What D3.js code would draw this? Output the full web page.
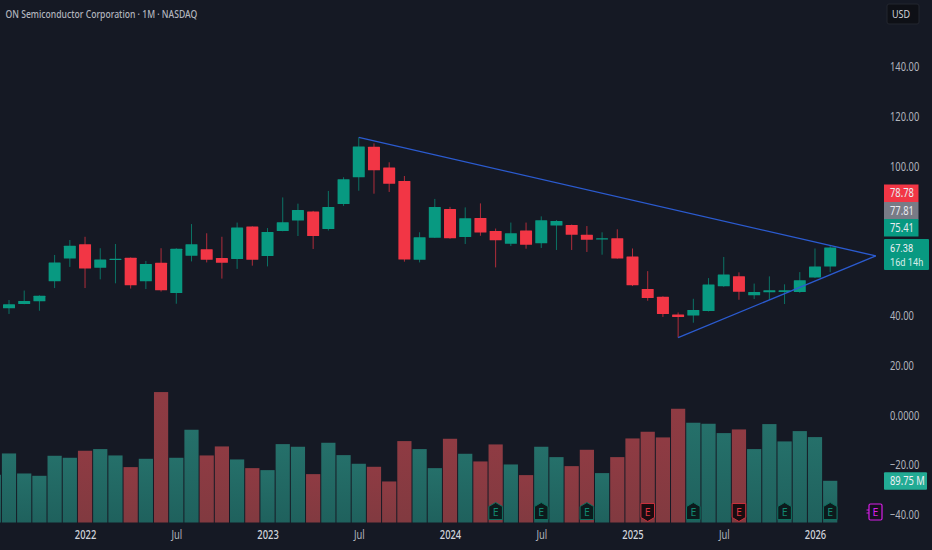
<!DOCTYPE html>
<html><head><meta charset="utf-8">
<script src="https://cdn.jsdelivr.net/npm/d3@7"></script>
<style>
html,body{margin:0;padding:0;background:#151924;overflow:hidden}
svg{display:block}
text{font-family:"Noto Sans",sans-serif}
</style></head><body>
<svg id="chart" width="932" height="550"></svg>
<script>
// Monthly candles, Aug 2021 - Feb 2026
const opens  = [43.0,44.7,45.8,53.8,63.0,68.7,59.3,62.5,63.3,53.8,61.3,49.1,64.1,66.7,63.2,62.8,75.8,64.0,74.0,78.2,81.8,74.8,84.9,95.6,107.9,99.5,94.1,62.5,71.3,82.9,71.6,79.2,74.0,68.9,74.2,69.1,76.2,76.4,72.5,70.7,71.1,63.8,50.7,47.6,40.5,40.1,41.9,51.8,55.8,48.2,49.4,49.5,49.5,55.3,59.8];
const highs  = [46.3,50.1,48.2,64.4,70.4,71.7,67.1,68.8,63.4,62.0,67.1,67.1,76.8,73.1,71.7,77.4,75.9,75.2,87.5,85.0,82.1,90.1,95.6,111.6,109.2,101.6,96.1,73.5,86.9,83.7,83.5,85.1,75.0,77.4,77.4,79.9,78.4,76.6,76.0,73.5,74.7,67.0,57.9,47.8,41.3,46.8,55.1,63.6,57.4,52.9,55.8,52.6,57.5,67.0,68.4];
const lows   = [40.7,44.6,42.0,51.1,59.6,51.1,54.6,53.0,50.9,50.7,49.7,44.8,61.8,61.4,54.9,58.8,60.1,59.8,73.9,72.0,66.8,74.2,84.1,90.2,89.0,89.7,61.7,61.4,71.2,70.9,68.8,72.1,59.4,68.0,66.9,67.2,66.4,66.4,65.6,64.5,62.9,51.9,46.0,39.5,31.2,37.2,41.7,51.6,46.4,46.7,46.3,44.7,49.2,55.1,57.5];
const closes = [44.6,45.9,48.05,61.4,68.1,59.0,62.6,62.9,52.2,60.8,50.2,66.9,68.7,62.5,61.3,75.4,62.5,73.6,77.5,82.5,72.0,83.7,94.8,108.0,98.4,93.0,62.6,71.5,83.7,71.1,79.1,73.4,70.3,73.1,68.5,78.3,78.0,72.5,70.5,71.1,63.0,52.2,47.1,40.7,39.5,42.3,52.5,56.5,49.6,49.5,50.2,50.2,54.2,59.8,67.38];
// Monthly volume in millions; the first value belongs to Jul 2021 (clipped at the left edge)
const volumes = [102.7,148.6,105.5,100.5,143.6,139.3,154.4,158.0,144.3,119.2,137.1,280.7,139.3,199.6,144.3,163.7,135.7,117.0,112.7,168.7,163.0,104.1,171.6,145.0,126.4,119.9,88.3,175.2,158.0,117.0,180.2,147.9,131.4,168.0,124.9,102.0,163.0,140.7,121.3,156.5,106.3,140.7,180.9,195.3,183.1,244.8,214.7,212.5,192.4,200.3,158.0,211.8,174.5,196.7,183.8,89.75];
const volumeUp = [1].concat(closes.map((c,i)=>c>=opens[i]?1:0));
const priceTicks = [140,120,100,40,20,0,-20,-40];
const timeTickIndex = [5,11,17,23,29,35,41,47,53];
const timeTickLabels = ["2022","Jul","2023","Jul","2024","Jul","2025","Jul","2026"];
const earningsIndex = [32,35,38,42,45,48,51,54];
const earningsUp = [1,1,1,0,1,0,1,1];
const trendUpper = [[23,111.6],[57,64.0]];
const trendLower = [[44,31.2],[57,64.0]];
const title = "ON Semiconductor Corporation · 1M · NASDAQ";
const stackedLabels = ["78.78","77.81","75.41"];
const lastPrice = "67.38", countdown = "16d 14h", lastVolume = "89.75 M", currency = "USD";

const UP="#089981", DOWN="#f23645", TICK="#b2b5be", SQUEEZE=.78;
const svg=d3.select("#chart");
const x=d3.scaleLinear().domain([0,54]).range([9,830.2]);
const y=d3.scaleLinear().domain([-40,140]).range([514.9,66.7]);
const v=d3.scaleLinear().domain([0,89.75]).range([522.5,480.8]);

svg.append("rect").attr("width",932).attr("height",550).attr("fill","#151924");

// Volume
const grad=svg.append("defs");
[["gu","#25706a","#1f615d"],["gd","#8f3b43","#813a40"]].forEach(([id,a,b])=>{
  const g=grad.append("linearGradient").attr("id",id).attr("x1",0).attr("x2",0).attr("y1",0).attr("y2",1);
  g.append("stop").attr("offset",0).attr("stop-color",a);
  g.append("stop").attr("offset",1).attr("stop-color",b);
});
svg.append("g").selectAll("rect").data(volumes).join("rect")
  .attr("x",(d,i)=>x(i-1)-7.1).attr("width",14.2)
  .attr("y",d=>v(d)).attr("height",d=>v(0)-v(d))
  .attr("fill",(d,i)=>volumeUp[i]?"url(#gu)":"url(#gd)");

// Candles
const idx=d3.range(closes.length);
const col=i=>closes[i]>=opens[i]?UP:DOWN;
const candles=svg.append("g");
candles.selectAll("line").data(idx).join("line")
  .attr("x1",i=>x(i)).attr("x2",i=>x(i))
  .attr("y1",i=>y(highs[i])).attr("y2",i=>y(lows[i]))
  .attr("stroke",i=>col(i)).attr("stroke-width",1).attr("opacity",.7);
candles.selectAll("rect").data(idx).join("rect")
  .attr("x",i=>x(i)-6).attr("width",12)
  .attr("y",i=>y(Math.max(opens[i],closes[i])))
  .attr("height",i=>Math.max(1.2,Math.abs(y(opens[i])-y(closes[i]))))
  .attr("rx",.5).attr("fill",i=>col(i));

// Trend lines
const line=d3.line().x(d=>x(d[0])).y(d=>y(d[1]));
[trendUpper,trendLower].forEach(t=>svg.append("path").attr("d",line(t)).attr("fill","none").attr("stroke","#2b5bd0").attr("stroke-width",1.3));

// Price axis
const fmt=d=>d===0?"0.0000":(d<0?"\u2212":"")+Math.abs(d).toFixed(2);
const ay=svg.append("g").attr("transform","translate(884,0)")
  .call(d3.axisRight(y).tickValues(priceTicks).tickFormat(fmt).tickSize(0).tickPadding(6));
ay.select(".domain").remove();
ay.selectAll("text").attr("fill",TICK).attr("font-size",12).style("font-family",'"Noto Sans",sans-serif');

// Time axis
const at=svg.append("g").attr("transform","translate(0,530)")
  .call(d3.axisBottom(x).tickValues(timeTickIndex).tickFormat((d,i)=>timeTickLabels[i]).tickSize(0).tickPadding(0));
at.select(".domain").remove();
at.selectAll("text").attr("fill",(d,i)=>i%2?TICK:"#d1d4dc").attr("font-size",12).attr("font-weight",(d,i)=>i%2?400:500)
  .style("font-family",'"Noto Sans",sans-serif');

// Title and currency
svg.append("text").attr("class","title").attr("x",5.5).attr("y",18).attr("fill","#b2b5be").attr("font-size",11.5).attr("font-weight",500).text(title);
svg.append("rect").attr("x",887).attr("y",4).attr("width",32).attr("height",20).attr("rx",2).attr("fill","#0e1016").attr("stroke","#23262f");
svg.append("text").attr("x",892).attr("y",18).attr("fill","#d1d4dc").attr("font-size",11.5).text(currency);

// Stacked price labels
const stackY=[184.5,202,219], stackCol=[DOWN,"#787b86",UP];
stackedLabels.forEach((t,i)=>{
  svg.append("rect").attr("x",884).attr("y",stackY[i]).attr("width",34.5).attr("height",17.5).attr("fill",stackCol[i]);
  svg.append("text").attr("x",890).attr("y",stackY[i]+13).attr("fill","#e8eaf0").attr("font-size",12).text(t);
});
svg.append("rect").attr("x",884).attr("y",y(67.38)-8.5).attr("width",45).attr("height",31).attr("rx",1).attr("fill",UP);
svg.append("text").attr("x",890).attr("y",y(67.38)+4.5).attr("fill","#eef0f4").attr("font-size",11.8).style("font-family","Roboto,sans-serif").text(lastPrice);
svg.append("text").attr("x",890).attr("y",y(67.38)+18.7).attr("fill","#d5ece8").attr("font-size",11.8).style("font-family","Roboto,sans-serif").text(countdown);
svg.append("rect").attr("x",884).attr("y",v(89.75)-8.5).attr("width",43).attr("height",17.5).attr("rx",1).attr("fill","#22ab94");
svg.append("text").attr("x",890).attr("y",v(89.75)+4.5).attr("fill","#eef0f4").attr("font-size",12).text(lastVolume);

// Earnings badges
const ey=512;
const badge=svg.append("g").selectAll("g").data(earningsIndex).join("g")
  .attr("transform",d=>`translate(${x(d)},${ey})`);
const upShape="M0,-9.5L6.8,-5.5V7.5H-6.8V-5.5Z", downShape="M-6.8,-8.5H6.8V5.5L0,9.5L-6.8,5.5Z";
badge.append("path").attr("d",(d,i)=>earningsUp[i]?upShape:downShape)
  .attr("fill",(d,i)=>earningsUp[i]?"#0c1a1c":"#1a0c10")
  .attr("stroke",(d,i)=>earningsUp[i]?"#0e6f5e":"#c9303c").attr("stroke-width",1);
badge.append("text").attr("text-anchor","middle").attr("y",4).attr("font-size",10.5)
  .attr("fill",(d,i)=>earningsUp[i]?"#12876f":"#d9343f").text("E");

// Purple event marker
const pe=svg.append("g").attr("transform","translate(875.5,512)");
pe.append("rect").attr("x",-6.5).attr("y",-8).attr("width",13).attr("height",16).attr("rx",1.5).attr("fill","#15101f").attr("stroke","#d61fe6").attr("stroke-width",1.2);
pe.append("text").attr("y",4).attr("text-anchor","middle").attr("font-size",10.5).attr("fill","#d61fe6").text("E");
[-2,1].forEach(o=>pe.append("line").attr("x1",-9).attr("x2",-6.5).attr("y1",o).attr("y2",o).attr("stroke","#d61fe6").attr("stroke-width",1));

// The reference uses a narrow UI face: condense labels horizontally about their anchor
svg.selectAll("text").filter(function(){return this.textContent!=="E"}).each(function(){
  const ax=+(this.getAttribute("x")||0);
  const s=this.getAttribute("class")==="title"?.75:SQUEEZE;
  this.setAttribute("transform",`translate(${ax},0) scale(${s},1) translate(${-ax},0)`);
});
</script>
</body></html>
